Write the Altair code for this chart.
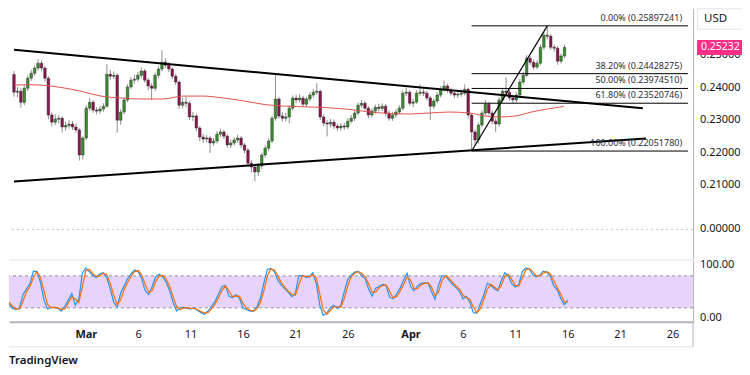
import altair as alt
import pandas as pd

# ---------------- data ----------------
close = [
    0.2386, 0.2389, 0.2355, 0.2398, 0.2429, 0.2444, 0.2460, 0.2475, 0.2460, 0.2429,
    0.2316, 0.2294, 0.2303, 0.2306, 0.2279, 0.2284, 0.2288, 0.2279, 0.2270, 0.2193,
    0.2245, 0.2337, 0.2355, 0.2331, 0.2328, 0.2334, 0.2343, 0.2441, 0.2435, 0.2438,
    0.2300, 0.2325, 0.2362, 0.2402, 0.2423, 0.2426, 0.2438, 0.2451, 0.2423, 0.2405,
    0.2398, 0.2438, 0.2457, 0.2478, 0.2469, 0.2457, 0.2435, 0.2417, 0.2346, 0.2355,
    0.2352, 0.2310, 0.2313, 0.2276, 0.2248, 0.2242, 0.2245, 0.2230, 0.2236, 0.2257,
    0.2264, 0.2251, 0.2224, 0.2230, 0.2239, 0.2245, 0.2224, 0.2208, 0.2168, 0.2156,
    0.2141, 0.2159, 0.2193, 0.2214, 0.2236, 0.2306, 0.2365, 0.2313, 0.2306, 0.2310,
    0.2337, 0.2368, 0.2362, 0.2368, 0.2349, 0.2365, 0.2377, 0.2386, 0.2389, 0.2310,
    0.2291, 0.2288, 0.2294, 0.2282, 0.2276, 0.2282, 0.2279, 0.2297, 0.2306, 0.2322,
    0.2346, 0.2352, 0.2337, 0.2316, 0.2328, 0.2340, 0.2336, 0.2343, 0.2322, 0.2306,
    0.2316, 0.2325, 0.2337, 0.2383, 0.2386, 0.2352, 0.2356, 0.2383, 0.2386, 0.2383,
    0.2368, 0.2343, 0.2359, 0.2377, 0.2395, 0.2405, 0.2392, 0.2383, 0.2377, 0.2380,
    0.2383, 0.2395, 0.2316, 0.2264, 0.2239, 0.2285, 0.2322, 0.2349, 0.2322, 0.2297,
    0.2288, 0.2362, 0.2389, 0.2386, 0.2368, 0.2362, 0.2377, 0.2417, 0.2438, 0.2490,
    0.2478, 0.2463, 0.2475, 0.2524, 0.2561, 0.2558, 0.2524, 0.2521, 0.2481, 0.2497,
    0.2523265,
]
first_open = 0.2440
high = [
    0.2452, 0.2402, 0.2398, 0.2407, 0.2438, 0.2455, 0.2468, 0.2488, 0.2484, 0.2466,
    0.2435, 0.2324, 0.2318, 0.2316, 0.2312, 0.2296, 0.2300, 0.2297, 0.2290, 0.2276,
    0.2252, 0.2346, 0.2368, 0.2362, 0.2340, 0.2344, 0.2352, 0.2472, 0.2455, 0.2450,
    0.2444, 0.2334, 0.2370, 0.2410, 0.2432, 0.2440, 0.2448, 0.2462, 0.2458, 0.2430,
    0.2414, 0.2446, 0.2466, 0.2515, 0.2490, 0.2478, 0.2464, 0.2442, 0.2422, 0.2368,
    0.2372, 0.2358, 0.2325, 0.2320, 0.2282, 0.2258, 0.2255, 0.2252, 0.2246, 0.2266,
    0.2274, 0.2270, 0.2258, 0.2240, 0.2248, 0.2256, 0.2252, 0.2230, 0.2214, 0.2178,
    0.2164, 0.2168, 0.2200, 0.2222, 0.2244, 0.2314, 0.2444, 0.2372, 0.2324, 0.2322,
    0.2346, 0.2376, 0.2378, 0.2380, 0.2375, 0.2372, 0.2386, 0.2396, 0.2414, 0.2394,
    0.2318, 0.2300, 0.2304, 0.2302, 0.2290, 0.2292, 0.2292, 0.2306, 0.2316, 0.2330,
    0.2354, 0.2362, 0.2360, 0.2344, 0.2336, 0.2348, 0.2350, 0.2352, 0.2350, 0.2330,
    0.2326, 0.2334, 0.2346, 0.2392, 0.2400, 0.2392, 0.2366, 0.2392, 0.2410, 0.2396,
    0.2390, 0.2375, 0.2366, 0.2386, 0.2404, 0.2422, 0.2412, 0.2400, 0.2392, 0.2390,
    0.2394, 0.2410, 0.2400, 0.2322, 0.2272, 0.2292, 0.2330, 0.2362, 0.2356, 0.2330,
    0.2306, 0.2370, 0.2398, 0.2432, 0.2394, 0.2376, 0.2386, 0.2426, 0.2448, 0.2500,
    0.2498, 0.2486, 0.2484, 0.2532, 0.2570, 0.2590, 0.2564, 0.2532, 0.2528, 0.2505,
    0.2532,
]
low = [
    0.2372, 0.2370, 0.2338, 0.2346, 0.2390, 0.2420, 0.2436, 0.2452, 0.2450, 0.2418,
    0.2302, 0.2281, 0.2285, 0.2290, 0.2262, 0.2268, 0.2274, 0.2270, 0.2262, 0.2176,
    0.2180, 0.2238, 0.2328, 0.2322, 0.2318, 0.2320, 0.2326, 0.2338, 0.2424, 0.2426,
    0.2262, 0.2286, 0.2318, 0.2355, 0.2395, 0.2412, 0.2418, 0.2430, 0.2415, 0.2392,
    0.2362, 0.2390, 0.2430, 0.2450, 0.2460, 0.2448, 0.2426, 0.2408, 0.2334, 0.2336,
    0.2340, 0.2300, 0.2298, 0.2266, 0.2236, 0.2230, 0.2232, 0.2199, 0.2222, 0.2228,
    0.2248, 0.2242, 0.2215, 0.2214, 0.2222, 0.2230, 0.2215, 0.2198, 0.2158, 0.2140,
    0.2112, 0.2128, 0.2150, 0.2185, 0.2206, 0.2230, 0.2298, 0.2305, 0.2295, 0.2296,
    0.2290, 0.2330, 0.2352, 0.2354, 0.2340, 0.2342, 0.2358, 0.2370, 0.2378, 0.2300,
    0.2282, 0.2250, 0.2278, 0.2272, 0.2266, 0.2268, 0.2270, 0.2272, 0.2290, 0.2298,
    0.2315, 0.2338, 0.2330, 0.2306, 0.2308, 0.2320, 0.2326, 0.2328, 0.2312, 0.2298,
    0.2298, 0.2308, 0.2318, 0.2330, 0.2374, 0.2344, 0.2340, 0.2350, 0.2375, 0.2374,
    0.2360, 0.2300, 0.2335, 0.2352, 0.2370, 0.2388, 0.2384, 0.2375, 0.2368, 0.2368,
    0.2372, 0.2376, 0.2305, 0.2205, 0.2225, 0.2228, 0.2278, 0.2315, 0.2315, 0.2288,
    0.2263, 0.2280, 0.2355, 0.2376, 0.2360, 0.2352, 0.2354, 0.2370, 0.2410, 0.2432,
    0.2470, 0.2455, 0.2456, 0.2468, 0.2516, 0.2548, 0.2516, 0.2510, 0.2470, 0.2474,
    0.2490,
]
stoch_k = [
    28, 19, 17, 20, 45, 55, 65, 89, 88, 68,
    35, 18, 21, 21, 19, 14, 23, 35, 47, 25,
    36, 85, 95, 88, 80, 77, 84, 86, 77, 55,
    30, 22, 48, 62, 75, 84, 91, 88, 75, 52,
    45, 60, 78, 83, 79, 68, 52, 30, 14, 20,
    21, 19, 18, 20, 15, 11, 8, 14, 23, 32,
    46, 60, 62, 42, 39, 45, 38, 20, 17, 14,
    14, 22, 38, 67, 92, 94, 88, 72, 62, 56,
    49, 41, 47, 80, 81, 77, 78, 86, 66, 25,
    6, 10, 20, 25, 19, 24, 50, 73, 82, 87,
    89, 80, 75, 55, 42, 57, 60, 64, 62, 40,
    37, 46, 57, 72, 85, 60, 52, 61, 66, 67,
    67, 50, 36, 62, 80, 80, 72, 64, 58, 51,
    37, 41, 30, 11, 10, 28, 45, 66, 62, 56,
    52, 72, 86, 80, 65, 59, 64, 88, 95, 93,
    82, 78, 81, 89, 87, 80, 61, 54, 38, 26,
    34,
]
stoch_d = [
    30, 23, 18, 18, 32, 50, 60, 77, 88, 78,
    52, 27, 20, 21, 20, 17, 18, 29, 41, 36,
    30, 60, 90, 92, 84, 79, 80, 85, 82, 66,
    43, 26, 35, 55, 68, 80, 88, 90, 82, 64,
    49, 52, 69, 80, 81, 74, 60, 41, 22, 17,
    20, 20, 19, 19, 17, 13, 10, 11, 18, 27,
    39, 53, 61, 52, 41, 42, 42, 29, 19, 16,
    14, 18, 30, 52, 80, 93, 91, 80, 67, 59,
    51, 45, 44, 63, 80, 79, 78, 82, 76, 46,
    16, 8, 15, 22, 22, 21, 37, 61, 78, 85,
    88, 85, 78, 65, 49, 50, 58, 62, 63, 51,
    39, 41, 51, 64, 78, 72, 56, 56, 63, 66,
    67, 59, 43, 49, 71, 80, 76, 68, 61, 55,
    44, 39, 36, 21, 11, 19, 36, 55, 64, 59,
    54, 62, 79, 83, 73, 62, 61, 76, 91, 94,
    88, 80, 80, 85, 88, 84, 71, 58, 46, 32,
    30,
]
ma_dates = [
    "2025-02-21T16:00:00Z", "2025-02-23T04:00:00Z", "2025-02-26T03:00:00Z",
    "2025-02-28T03:00:00Z", "2025-03-02T02:00:00Z", "2025-03-04T01:00:00Z",
    "2025-03-06T01:00:00Z", "2025-03-08T01:00:00Z", "2025-03-10T02:00:00Z",
    "2025-03-11T23:00:00Z", "2025-03-13T23:00:00Z", "2025-03-15T23:00:00Z",
    "2025-03-17T23:00:00Z", "2025-03-19T23:00:00Z", "2025-03-22T22:00:00Z",
    "2025-03-25T21:00:00Z", "2025-03-28T20:00:00Z", "2025-03-31T21:00:00Z",
    "2025-04-02T21:00:00Z", "2025-04-04T21:00:00Z", "2025-04-06T19:00:00Z",
    "2025-04-08T19:00:00Z", "2025-04-09T20:00:00Z", "2025-04-11T06:00:00Z",
    "2025-04-12T19:00:00Z", "2025-04-14T06:00:00Z", "2025-04-15T23:00:00Z",
]
ma_values = [
    0.2408, 0.2409, 0.2401, 0.2389, 0.2374, 0.2368, 0.2365, 0.2365, 0.2374,
    0.2374, 0.2368, 0.2359, 0.2348, 0.2343, 0.2340, 0.2334, 0.2323, 0.2319,
    0.2322, 0.2325, 0.2322, 0.2311, 0.2310, 0.2313, 0.2325, 0.2334, 0.2342,
]
upper_trend_dates = ["2025-02-21T16:00:00Z", "2025-04-23T14:00:00Z"]
upper_trend_values = [0.2516, 0.2337]
lower_trend_dates = ["2025-02-21T16:00:00Z", "2025-04-23T21:00:00Z"]
lower_trend_values = [0.2112, 0.2244]

fib_levels = [0.25897241, 0.24428275, 0.23974510, 0.23520746, 0.22051780]
fib_pcts = ["0.00%", "38.20%", "50.00%", "61.80%", "100.00%"]
fib_start = "2025-04-07T00:00:00Z"
fib_top_date = "2025-04-14T08:00:00Z"
view_end = "2025-04-27T23:17:00Z"

last_price = 0.2523265
price_ticks = [0.21, 0.22, 0.23, 0.24, 0.25]
zero_ticks = [0.0]
stoch_ticks = [0, 100]
tick_days = [(3, 1), (3, 6), (3, 11), (3, 16), (3, 21), (3, 26),
             (4, 1), (4, 6), (4, 11), (4, 16), (4, 21), (4, 26)]

# ---------------- layout constants ----------------
W = 685          # plot width (right price scale starts at x = 693 on the page)
RIGHT = 49       # visible part of the price-scale column (page is 750 px wide)
H_PRICE = 192
H_ZERO = 59
H_STOCH = 62
FONT = "Noto Sans"
TXT = "#131722"
AXIS_LINE = "#b2b5be"
CUT = "\u200b"   # truncate labels at the page edge without an ellipsis

times = pd.date_range("2025-02-21 16:00", periods=len(close), freq="8h")
tstr = [t.strftime("%Y-%m-%dT%H:%M:%SZ") for t in times]
opens = [first_open] + close[:-1]
cdf = pd.DataFrame({"t": tstr, "o": opens, "c": close, "h": high, "l": low})
cdf["dir"] = ["up" if c >= o else "down" for o, c in zip(opens, close)]

xs = alt.Scale(type="utc",
               domain=[alt.DateTime(year=2025, month=2, date=21, hours=16, utc=True),
                       alt.DateTime(year=2025, month=4, date=27, hours=23, minutes=17, utc=True)])


def right_axis():
    return alt.Axis(orient="right", labels=False, ticks=False, grid=False, title=None,
                    domainColor=AXIS_LINE)


def scale_labels(values, fmt, scale, fontsize=11):
    df = pd.DataFrame({"v": values, "lab": [format(v, fmt) for v in values]})
    return alt.Chart(df).mark_text(align="left", baseline="middle", fontSize=fontsize, font=FONT,
                                   color=TXT, limit=RIGHT - 7, ellipsis=CUT).encode(
        x=alt.value(W + 7), y=alt.Y("v:Q", scale=scale, axis=right_axis()), text="lab:N")


ys_price = alt.Scale(domain=[0.20549, 0.26438], nice=False, zero=False)


def px(field):
    return alt.X(field, scale=xs, axis=None)


def py(field):
    return alt.Y(field, scale=ys_price, axis=right_axis())


wicks = alt.Chart(cdf).mark_rule(color="#8f8f8f", strokeWidth=1, clip=True).encode(
    x=px("t:T"), y=py("l:Q"), y2="h:Q")
bodies = alt.Chart(cdf).mark_bar(size=2.6, clip=True, stroke="#1e1e1e", strokeWidth=0.4).encode(
    x=px("t:T"), y=py("o:Q"), y2="c:Q",
    color=alt.Color("dir:N", scale=alt.Scale(domain=["up", "down"], range=["#3c8d2f", "#8b1650"]),
                    legend=None))

ma_df = pd.DataFrame({"t": ma_dates, "v": ma_values})
ma = alt.Chart(ma_df).mark_line(color="#e0524d", strokeWidth=1, interpolate="monotone",
                                clip=True).encode(x=px("t:T"), y=py("v:Q"))

trend_df = pd.DataFrame({
    "t": upper_trend_dates + lower_trend_dates,
    "v": upper_trend_values + lower_trend_values,
    "g": ["upper", "upper", "lower", "lower"],
})
trends = alt.Chart(trend_df).mark_line(color="black", strokeWidth=2, clip=True).encode(
    x=px("t:T"), y=py("v:Q"), detail="g:N")

fib_df = pd.DataFrame({
    "lvl": fib_levels,
    "lab": [f"{p} ({v:.8f})" for p, v in zip(fib_pcts, fib_levels)],
    "fs": [fib_start] * len(fib_levels),
    "fe": [view_end] * len(fib_levels),
})
fib_lines = alt.Chart(fib_df).mark_rule(color="black", strokeWidth=1).encode(
    x=px("fs:T"), x2="fe:T", y=py("lvl:Q"))
fib_text = alt.Chart(fib_df).mark_text(align="right", baseline="bottom", dx=-6, dy=-3,
                                       fontSize=9, font=FONT, color="#2a2e39").encode(
    x=px("fe:T"), y=py("lvl:Q"), text="lab:N")
diag_df = pd.DataFrame({"t": [fib_start, fib_top_date], "v": [fib_levels[-1], fib_levels[0]]})
fib_diag = alt.Chart(diag_df).mark_line(color="black", strokeWidth=1.2).encode(
    x=px("t:T"), y=py("v:Q"))

price_labels = scale_labels(price_ticks, ".7f", ys_price)

last_df = pd.DataFrame({"p": [last_price], "lab": [f"{last_price:.7f}"]})
price_box = alt.Chart(last_df).mark_rect(height=15, color="#ff2e86").encode(
    x=alt.value(W + 4), x2=alt.value(W + RIGHT), y=py("p:Q"))
price_lab = alt.Chart(last_df).mark_text(align="left", baseline="middle", color="white",
                                         fontSize=10.5, font=FONT, limit=RIGHT - 8,
                                         ellipsis=CUT).encode(
    x=alt.value(W + 8), y=py("p:Q"), text="lab:N")

one = pd.DataFrame({"z": [0]})
usd_top = alt.Chart(one).mark_rule(color="#e0e3eb", strokeWidth=1).encode(
    x=alt.value(W + 4.5), x2=alt.value(W + RIGHT - 0.5), y=alt.value(0.5))
usd_bottom = alt.Chart(one).mark_rule(color="#e0e3eb", strokeWidth=1).encode(
    x=alt.value(W + 4.5), x2=alt.value(W + RIGHT - 0.5), y=alt.value(21))
usd_left = alt.Chart(one).mark_rule(color="#e0e3eb", strokeWidth=1).encode(
    x=alt.value(W + 4.5), y=alt.value(0.5), y2=alt.value(21))
usd_lab = alt.Chart(one).mark_text(align="left", baseline="middle", fontSize=11.5, font=FONT,
                                   color=TXT).encode(
    x=alt.value(W + 11), y=alt.value(11), text=alt.value("USD"))

price = alt.layer(wicks, bodies, ma, trends, fib_lines, fib_diag, fib_text,
                  price_labels, price_box, price_lab, usd_top, usd_bottom, usd_left, usd_lab
                  ).properties(width=W, height=H_PRICE)

# ---------------- zero pane ----------------
ys_zero = alt.Scale(domain=[-1, 1], nice=False)
zero_rule = alt.Chart(one).mark_rule(color="#c3c6ce", strokeDash=[2, 3], strokeWidth=1).encode(
    y=alt.Y("z:Q", scale=ys_zero, axis=right_axis()))
zero = alt.layer(zero_rule, scale_labels(zero_ticks, ".7f", ys_zero)).properties(
    width=W, height=H_ZERO)

# ---------------- stochastic RSI pane ----------------
ys_st = alt.Scale(domain=[-6.25, 110], nice=False, zero=False)
x_axis = alt.Axis(
    values=[alt.DateTime(year=2025, month=m, date=d, utc=True) for m, d in tick_days],
    labelExpr="utcdate(datum.value) == 1 ? utcFormat(datum.value, '%b') : utcFormat(datum.value, '%-d')",
    title=None, grid=False, ticks=False, domainColor=AXIS_LINE, domainWidth=2,
    labelPadding=7, labelFontSize=11, labelFont=FONT, labelColor=TXT, labelOverlap=False,
    labelFontWeight=alt.condition("utcdate(datum.value) == 1", alt.value("bold"), alt.value("normal")),
)

sdf = pd.DataFrame({"t": tstr, "k": stoch_k, "d": stoch_d})
band = alt.Chart(pd.DataFrame({"lo": [20], "hi": [80]})).mark_rect(color="#e8d3fb").encode(
    x=alt.value(0), x2=alt.value(W),
    y=alt.Y("lo:Q", scale=ys_st, axis=right_axis()), y2="hi:Q")
band_lines = alt.Chart(pd.DataFrame({"b": [20, 80]})).mark_rule(
    strokeDash=[3, 3], color="#8a8d96", strokeWidth=1).encode(
    y=alt.Y("b:Q", scale=ys_st, axis=right_axis()))
k_line = alt.Chart(sdf).mark_line(color="#2196f3", strokeWidth=1.2, clip=True).encode(
    x=alt.X("t:T", scale=xs, axis=x_axis), y=alt.Y("k:Q", scale=ys_st, axis=right_axis()))
d_line = alt.Chart(sdf).mark_line(color="#ff6d00", strokeWidth=1.2, clip=True).encode(
    x=alt.X("t:T", scale=xs, axis=x_axis), y=alt.Y("d:Q", scale=ys_st, axis=right_axis()))
sep_top = alt.Chart(one).mark_rule(color="#e0e3eb", strokeWidth=1).encode(
    x=alt.value(0), x2=alt.value(W), y=alt.value(0))
sep_bottom = alt.Chart(one).mark_rule(color="#e0e3eb", strokeWidth=1).encode(
    x=alt.value(0), x2=alt.value(W), y=alt.value(87))
axis_vert = alt.Chart(one).mark_rule(color=AXIS_LINE, strokeWidth=1).encode(
    x=alt.value(W), y=alt.value(62), y2=alt.value(87))
brand = alt.Chart(one).mark_text(align="left", baseline="middle", fontSize=11.5, font=FONT,
                                 fontWeight=600, color=TXT).encode(
    x=alt.value(0), y=alt.value(101), text=alt.value("TradingView"))

stoch = alt.layer(band, band_lines, k_line, d_line, scale_labels(stoch_ticks, ".2f", ys_st),
                  sep_top, sep_bottom, axis_vert, brand).properties(width=W, height=H_STOCH)

chart = alt.vconcat(price, zero, stoch, spacing=0).resolve_scale(
    x="independent", y="independent").properties(padding=0).configure_view(stroke=None)

chart.save("out.html", embed_options={"renderer": "svg", "actions": False})
